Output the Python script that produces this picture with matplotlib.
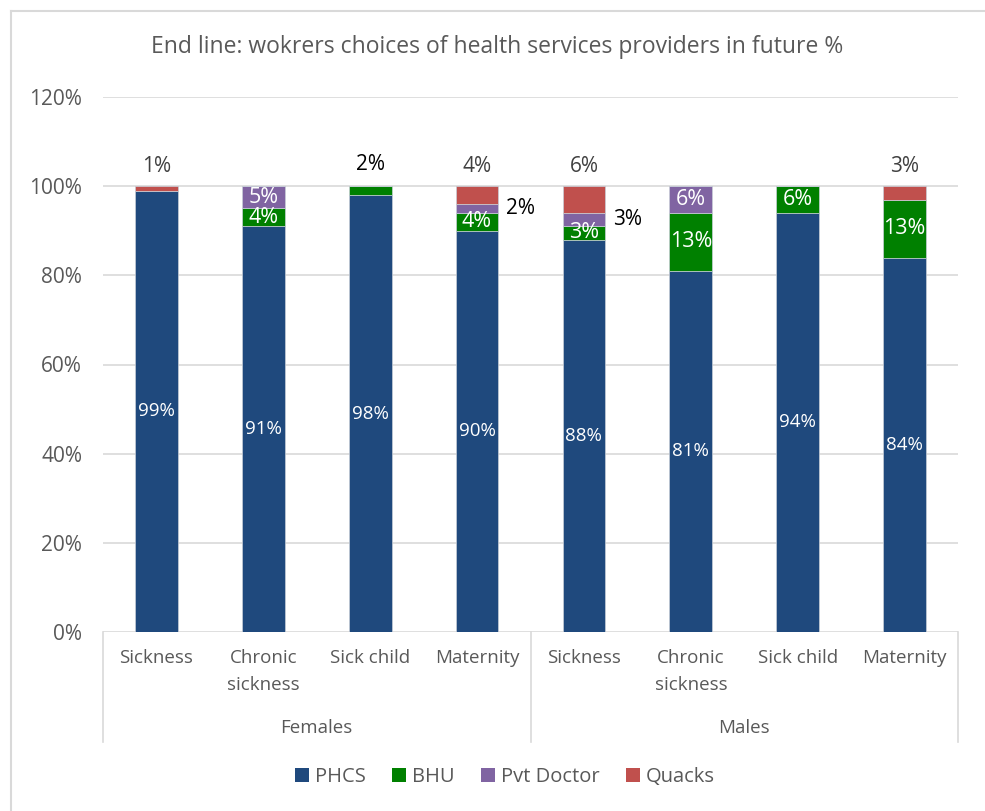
import matplotlib
matplotlib.use("Agg")
import matplotlib.pyplot as plt
from matplotlib.lines import Line2D
from matplotlib.patches import Patch

plt.rcParams['font.family'] = ['Open Sans', 'DejaVu Sans']

groups = ["Females", "Males"]
categories = ["Sickness", "Chronic\nsickness", "Sick child", "Maternity",
              "Sickness", "Chronic\nsickness", "Sick child", "Maternity"]
series = ["PHCS", "BHU", "Pvt Doctor", "Quacks"]
phcs = [99, 91, 98, 90, 88, 81, 94, 84]
bhu = [0, 4, 2, 4, 3, 13, 6, 13]
pvt = [0, 5, 0, 2, 3, 6, 0, 0]
quacks = [1, 0, 0, 4, 6, 0, 0, 3]
yticks = [0, 20, 40, 60, 80, 100, 120]

colors = ["#1F497D", "#008000", "#8064A2", "#C0504D"]
values = [phcs, bhu, pvt, quacks]

fig = plt.figure(figsize=(9.85, 8.11), dpi=100)
ax = fig.add_axes([103 / 985, 1 - 632 / 811, 855 / 985, 535 / 811])

x = list(range(len(categories)))
bottom = [0] * len(categories)
for vals, col in zip(values, colors):
    ax.bar(x, vals, bottom=bottom, width=0.4, color=col,
           edgecolor="#c8cfd8", linewidth=0.5, zorder=3)
    bottom = [b + v for b, v in zip(bottom, vals)]

ax.set_xlim(-0.5, len(categories) - 0.5)
ax.set_ylim(0, 120)
ax.set_yticks(yticks)
ax.set_yticklabels([f"{t}%" for t in yticks], fontsize=15, color="#595959")
ax.grid(axis="y", color="#d9d9d9", linewidth=1.2, zorder=0)
ax.tick_params(axis="y", length=0, pad=15)
ax.set_xticks([])
for s in ax.spines.values():
    s.set_visible(False)

base_kw = dict(ha="center", va="center", fontsize=13.5, zorder=4)
in_kw = dict(ha="center", va="center", fontsize=15.5, zorder=4)
out_kw = dict(ha="center", va="center", fontsize=15, zorder=4)
for i in x:
    # PHCS labels in the middle of the segment
    ax.text(i, phcs[i] / 2, f"{phcs[i]}%", color="white", **base_kw)
    base = phcs[i]
    # BHU
    if bhu[i]:
        if bhu[i] >= 3:
            ax.text(i, base + bhu[i] / 2, f"{bhu[i]}%", color="white", **in_kw)
        else:
            ax.text(i, 104.8, f"{bhu[i]}%", color="black", **out_kw)
    base += bhu[i]
    # Pvt Doctor
    if pvt[i]:
        if pvt[i] >= 5:
            ax.text(i, base + pvt[i] / 2, f"{pvt[i]}%", color="white", **in_kw)
        else:
            ax.text(i + 0.41, base + pvt[i] / 2, f"{pvt[i]}%", color="black", **out_kw)
    base += pvt[i]
    # Quacks above the bar
    if quacks[i]:
        ax.text(i, 104.5, f"{quacks[i]}%", color="#404040", **out_kw)

# Category and group labels under the axis
trans = ax.get_xaxis_transform()
line_col = "#d9d9d9"
for i, c in enumerate(categories):
    ax.text(i, -0.032, c, transform=trans, ha="center", va="top",
            fontsize=13.5, color="#595959", linespacing=1.65)
for g, gname in enumerate(groups):
    ax.text(g * 4 + 1.5, -0.18, gname, transform=trans, ha="center", va="center",
            fontsize=13.5, color="#595959")
for xp in [-0.5, 3.5, 7.5]:
    ax.add_line(Line2D([xp, xp], [0, -0.206], transform=trans, color=line_col,
                       linewidth=1.2, clip_on=False))

fig.text(497 / 985, 1 - 47 / 811,
         "End line: wokrers choices of health services providers in future %",
         ha="center", va="center", fontsize=16.5, color="#595959")

handles = [Patch(facecolor=c, edgecolor="none") for c in colors]
fig.legend(handles, series, loc="center", bbox_to_anchor=(505 / 985, 1 - 777 / 811),
           ncol=4, frameon=False, fontsize=14.5, handlelength=0.7, handleheight=0.7,
           handletextpad=0.3, columnspacing=1.3, labelcolor="#595959")

# Chart outer border
fig.add_artist(Line2D([10.5 / 985, 1], [1 - 10.5 / 811, 1 - 10.5 / 811],
                      transform=fig.transFigure, color="#d9d9d9", linewidth=1.5))
fig.add_artist(Line2D([10.5 / 985, 10.5 / 985], [0, 1 - 10.5 / 811],
                      transform=fig.transFigure, color="#d9d9d9", linewidth=1.5))

fig.savefig("out.png", dpi=100, facecolor="white")
